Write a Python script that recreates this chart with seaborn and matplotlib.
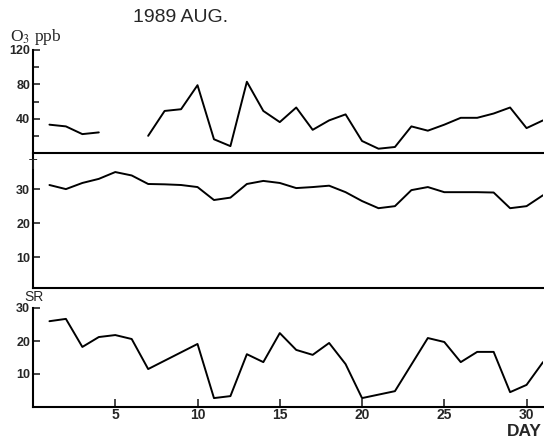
import numpy as np
import pandas as pd
import matplotlib
matplotlib.use("Agg")
import matplotlib.pyplot as plt
import seaborn as sns

# ---- data ----
o3_days = [1, 2, 3, 4, 7, 8, 9, 10, 11, 12, 13, 14, 15, 16, 17, 18, 19, 20,
           21, 22, 23, 24, 25, 26, 27, 28, 29, 30, 31]
o3_vals = [33, 31, 22, 24, 20, 49, 51, 79, 16, 8, 83, 49, 36, 53, 27, 38, 45, 14,
           5, 7, 31, 26, 33, 41, 41, 46, 53, 29, 38]
o3_seg = [0, 0, 0, 0] + [1] * 25

t_days = list(range(1, 32))
t_vals = [31.2, 30.0, 31.8, 33.0, 35.0, 34.0, 31.5, 31.4, 31.2, 30.6, 26.8, 27.5,
          31.5, 32.4, 31.8, 30.3, 30.6, 31.0, 29.1, 26.5, 24.4, 25.0, 29.7, 30.6,
          29.1, 29.1, 29.1, 29.0, 24.4, 25.0, 28.2]

sr_days = [1, 2, 3, 4, 5, 6, 7, 10, 11, 12, 13, 14, 15, 16, 17, 18, 19, 20, 22,
           24, 25, 26, 27, 28, 29, 30, 31]
sr_vals = [26.0, 26.7, 18.2, 21.2, 21.8, 20.6, 11.5, 19.1, 2.7, 3.3, 16.0, 13.6,
           22.4, 17.3, 15.8, 19.4, 13.0, 2.7, 4.8, 20.9, 19.7, 13.6, 16.7, 16.7,
           4.5, 6.7, 13.6]

x_ticks = [5, 10, 15, 20, 25, 30]
o3_ticks = [40, 80, 120]
o3_minor = [20, 60, 100]
t_ticks = [10, 20, 30]
sr_ticks = [10, 20, 30]

df_o3 = pd.DataFrame({"day": o3_days, "val": o3_vals, "seg": o3_seg})
df_t = pd.DataFrame({"day": t_days, "val": t_vals})
df_sr = pd.DataFrame({"day": sr_days, "val": sr_vals})

sns.set_theme(style="ticks")
plt.rcParams["font.family"] = ["Liberation Sans", "DejaVu Sans"]

W, H = 544, 443
fig = plt.figure(figsize=(W / 100, H / 100), dpi=100)

def rect(top, bottom, left=33, right=543):
    return [left / W, 1 - bottom / H, (right - left) / W, (bottom - top) / H]

ax1 = fig.add_axes(rect(50, 153))
ax2 = fig.add_axes(rect(155, 288))
ax3 = fig.add_axes(rect(308, 407))

lw = 1.4
sns.lineplot(data=df_o3, x="day", y="val", units="seg", estimator=None,
             color="black", lw=lw, ax=ax1)
sns.lineplot(data=df_t, x="day", y="val", color="black", lw=lw, ax=ax2)
sns.lineplot(data=df_sr, x="day", y="val", color="black", lw=lw, ax=ax3)

for ax in (ax1, ax2, ax3):
    ax.set_xlim(0, 31)
    ax.set_xlabel("")
    ax.set_ylabel("")
    for s in ("top", "right"):
        ax.spines[s].set_visible(False)
    for s in ("left", "bottom"):
        ax.spines[s].set_linewidth(1.5)
        ax.spines[s].set_color("black")
    ax.tick_params(axis="y", direction="in", length=5, width=1.2, pad=2)

ax1.set_ylim(0, 120)
ax1.set_yticks(o3_ticks)
ax1.set_yticklabels([str(v) for v in o3_ticks], fontweight="bold", fontsize=9)
ax1.set_yticks(o3_minor, minor=True)
ax1.tick_params(axis="y", which="minor", direction="in", length=4, width=1.2)
ax1.set_xticks([])

ax2.set_ylim(1, 40)
ax2.set_yticks(t_ticks)
ax2.set_yticklabels([str(v) for v in t_ticks], fontweight="bold", fontsize=9)
ax2.set_xticks([])

ax3.set_ylim(0, 30)
ax3.set_yticks(sr_ticks)
ax3.set_yticklabels([str(v) for v in sr_ticks], fontweight="bold", fontsize=9)
ax3.set_xticks(x_ticks)
ax3.set_xticklabels([str(v) for v in x_ticks], fontweight="bold", fontsize=10)
ax3.tick_params(axis="x", direction="in", length=6, width=1.2, pad=1)

fig.text(181 / W, 1 - 18 / H, "1989 AUG.", ha="center", va="center",
         fontsize=14, fontweight="medium")
fig.text(10 / W, 1 - 37 / H, "O$_3$ ppb", ha="left", va="center",
         fontsize=12.5, family=["Liberation Serif", "DejaVu Serif"],
         math_fontfamily="stix")
fig.text(33 / W, 1 - 165 / H, "T", ha="center", va="center", fontsize=10,
         zorder=10)
fig.text(34 / W, 1 - 297 / H, "SR", ha="center", va="center", fontsize=10)
fig.text(542 / W, 1 - 431 / H, "DAY", ha="right", va="center", fontsize=12.5,
         fontweight="bold")

fig.savefig("out.png", dpi=100)
